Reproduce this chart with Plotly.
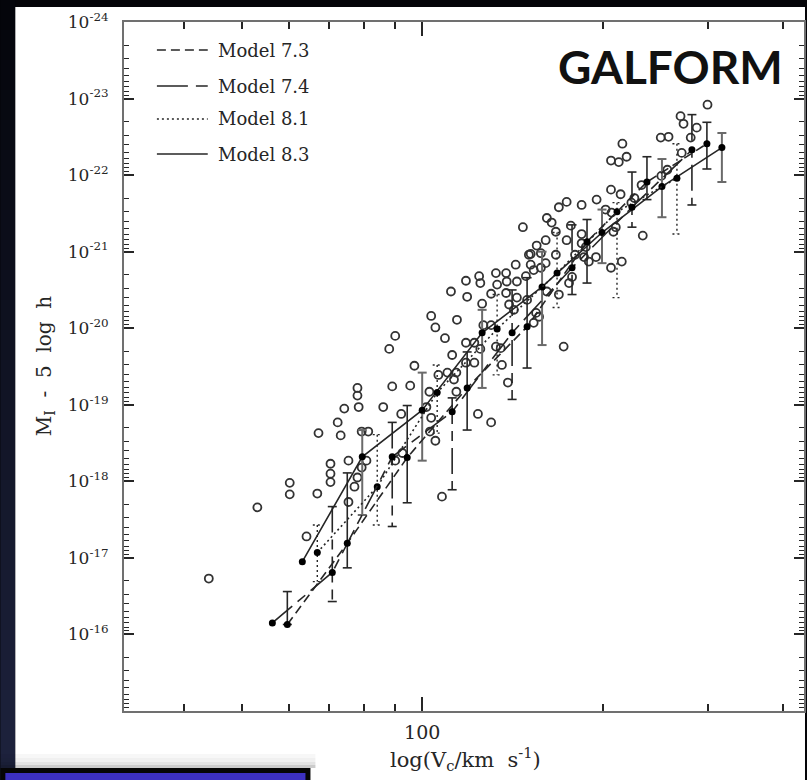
import plotly.graph_objects as go

# ---------------- data (log10 Vc, magnitude M_I - 5 log h) ----------------
# Model 8.3 (solid)
m83_logv = [1.80, 1.90, 2.00, 2.10, 2.20, 2.30, 2.40, 2.50]
m83_mag = [-16.95, -18.32, -18.93, -19.94, -20.54, -21.25, -21.85, -22.36]
m83_bright = [None, -18.67, -19.42, -20.24, -21.00, -21.55, -22.21, -22.55]
m83_faint = [None, -17.56, -18.27, -19.22, -19.78, -20.85, -21.45, -21.91]

# Model 8.1 (dotted)
m81_logv = [1.825, 1.925, 2.025, 2.125, 2.225, 2.325, 2.425]
m81_mag = [-17.07, -17.93, -19.16, -19.99, -20.72, -21.52, -21.96]
m81_bright = [-17.43, -18.61, -19.52, -20.44, -21.25, -21.64, -22.41]
m81_faint = [-16.69, -17.43, -18.63, -19.39, -20.27, -20.40, -21.23]

# Model 7.4 (long dash)
m74_logv = [1.75, 1.85, 1.95, 2.05, 2.15, 2.25, 2.35, 2.45]
m74_mag = [-16.15, -16.81, -18.32, -18.91, -19.94, -20.79, -21.58, -22.33]
m74_bright = [None, -17.67, -18.77, -19.09, -20.50, -21.35, -22.04, -22.79]
m74_faint = [None, -16.43, -17.41, -17.89, -19.07, -20.44, -21.32, -21.61]

# Model 7.3 (dashed)
m73_logv = [1.775, 1.875, 1.975, 2.075, 2.175, 2.275, 2.375, 2.475]
m73_mag = [-16.13, -17.19, -18.31, -19.22, -20.02, -21.13, -21.91, -22.41]
m73_bright = [-16.56, -18.11, -18.99, -19.69, -20.66, -21.42, -22.24, -22.69]
m73_faint = [-16.13, -16.87, -17.72, -18.67, -19.48, -20.59, -21.68, -22.08]

# Observed galaxies (open circles)
obs_logv = [1.644, 1.725, 1.779, 1.779, 1.807, 1.825, 1.827, 1.847, 1.847, 1.847,
            1.864, 1.859, 1.870, 1.892, 1.892, 1.894, 1.877, 1.887, 1.892, 1.899,
            1.907, 1.877, 1.899, 1.910, 1.935, 1.950, 1.945, 1.955, 1.980, 1.987,
            1.965, 1.967, 1.955, 2.012, 2.015, 2.013, 2.022, 2.033, 2.015, 2.022,
            2.038, 2.048, 2.075, 2.073, 2.095, 2.097, 2.100, 2.058, 2.073, 2.087,
            2.097, 2.050, 2.073, 2.087, 2.027, 2.042, 2.057, 2.053, 2.057, 2.093,
            2.115, 2.123, 2.140, 2.156, 2.141, 2.158, 2.125, 2.115, 2.140, 2.158,
            2.175, 2.145, 2.153, 2.178, 2.102, 2.115, 2.123, 2.131, 2.133, 2.143,
            2.168, 2.181, 2.181, 2.191, 2.198, 2.206, 2.208, 2.216, 2.223, 2.228,
            2.241, 2.248, 2.241, 2.255, 2.206, 2.198, 2.186, 2.173, 2.223, 2.208,
            2.228, 2.245, 2.250, 2.190, 2.195, 2.186, 2.236, 2.266, 2.291, 2.266,
            2.266, 2.273, 2.270, 2.278, 2.290, 2.306, 2.316, 2.323, 2.319, 2.315,
            2.331, 2.354, 2.349, 2.366, 2.399, 2.409, 2.315, 2.328, 2.341, 2.334,
            2.398, 2.411, 2.433, 2.431, 2.436, 2.458, 2.448, 2.476, 2.368, 2.333,
            2.315, 2.007]
obs_mag = [-16.73, -17.66, -17.98, -17.83, -17.28, -17.84, -18.63, -18.23, -18.10, -17.99,
           -18.60, -18.77, -18.95, -19.22, -19.12, -18.97, -18.27, -17.93, -18.05, -18.18,
           -18.27, -17.73, -18.65, -18.65, -18.97, -19.24, -19.73, -19.90, -19.25, -19.51,
           -18.88, -18.37, -18.27, -19.17, -18.83, -18.65, -18.53, -17.80, -20.16, -20.01,
           -19.87, -20.48, -20.41, -20.62, -20.68, -20.59, -20.32, -20.11, -19.81, -19.81,
           -19.73, -19.65, -19.55, -19.55, -19.39, -19.42, -19.42, -19.33, -19.17, -18.88,
           -18.77, -20.72, -20.72, -20.83, -20.61, -20.61, -20.57, -20.45, -20.46, -20.40,
           -20.37, -20.31, -20.24, -20.96, -20.04, -20.04, -19.76, -19.74, -19.52, -19.29,
           -21.32, -20.97, -20.83, -21.08, -20.98, -21.15, -21.44, -21.38, -21.26, -21.58,
           -21.65, -21.34, -21.15, -20.96, -20.85, -20.79, -20.76, -20.68, -20.96, -20.48,
           -20.44, -20.59, -20.67, -20.20, -20.15, -20.07, -19.76, -21.61, -21.68, -21.23,
           -21.11, -21.06, -20.93, -20.87, -20.93, -21.55, -21.51, -21.32, -21.26, -21.81,
           -21.75, -21.70, -21.64, -21.87, -21.99, -22.07, -22.19, -22.17, -22.24, -22.41,
           -22.49, -22.50, -22.29, -22.77, -22.67, -22.62, -22.49, -22.92, -21.21, -20.87,
           -20.79, -18.97]

legend_names = ["Model 7.3", "Model 7.4", "Model 8.1", "Model 8.3"]
x_tick_major = [100]
x_tick_minor = [40, 50, 60, 70, 80, 90, 200, 300, 400]
y_tick_exps = list(range(-24, -15))

# ---------------- styling ----------------
INK = "#262626"
SERIF = "DejaVu Serif"
DASH73 = "9px,5px"
DASH74 = "26px,7px,10px,7px"
DOT81 = "2px,3px"

W, H = 807, 780
L, R, T, B = 124, 1, 22, 69
PW, PH = W - L - R, H - T - B


def pxx(x):
    return (x - L) / PW


def pxy(y):
    return (H - B - y) / PH


fig = go.Figure()

# open circles
fig.add_trace(go.Scatter(
    x=[10 ** v for v in obs_logv], y=[10 ** m for m in obs_mag],
    mode="markers", showlegend=False, hoverinfo="skip",
    marker=dict(symbol="circle-open", size=8, color="#333333", line=dict(width=1.8, color="#333333"))))


def errbars(logv, bright, faint, color, width, dash):
    xs, ys = [], []
    cap = 10 ** 0.0075
    for lv, b, f in zip(logv, bright, faint):
        if b is None:
            continue
        x = 10 ** lv
        yb, yf = 10 ** b, 10 ** f
        xs += [x, x, None, x / cap, x * cap, None, x / cap, x * cap, None]
        ys += [yb, yf, None, yb, yb, None, yf, yf, None]
    fig.add_trace(go.Scatter(x=xs, y=ys, mode="lines", showlegend=False, hoverinfo="skip",
                             line=dict(color=color, width=width, dash=dash)))


errbars(m83_logv, m83_bright, m83_faint, "#6a6a6a", 2.0, "solid")
errbars(m81_logv, m81_bright, m81_faint, INK, 1.4, DOT81)
errbars(m74_logv, m74_bright, m74_faint, INK, 1.6, DASH74)
errbars(m73_logv, m73_bright, m73_faint, INK, 1.6, "solid")

for lv, mg, dash in [(m83_logv, m83_mag, "solid"), (m81_logv, m81_mag, DOT81),
                     (m74_logv, m74_mag, DASH74), (m73_logv, m73_mag, DASH73)]:
    fig.add_trace(go.Scatter(
        x=[10 ** v for v in lv], y=[10 ** m for m in mg], mode="lines+markers",
        showlegend=False, hoverinfo="skip",
        line=dict(color=INK, width=1.6, dash=dash),
        marker=dict(symbol="circle", size=7, color="#000000")))

shapes = []
# dark gradient strip on left
n = 26
for i in range(n):
    y0, y1 = i * H / n, (i + 1) * H / n
    f = (i + 0.5) / n
    c = "rgb(%d,%d,%d)" % (int(4 + 26 * f), int(5 + 30 * f), int(10 + 52 * f))
    shapes.append(dict(type="rect", xref="paper", yref="paper", layer="below",
                       x0=pxx(0), x1=pxx(15), y0=pxy(y1), y1=pxy(y0),
                       fillcolor=c, line=dict(width=0)))
# white panel
shapes.append(dict(type="rect", xref="paper", yref="paper", layer="below",
                   x0=pxx(15), x1=pxx(W), y0=pxy(H), y1=pxy(7),
                   fillcolor="white", line=dict(width=0)))
# soft shadow above blue box
for (a, b, al) in [(754, 758, 0.03), (758, 762, 0.06), (762, 765, 0.11), (765, 768, 0.2)]:
    shapes.append(dict(type="rect", xref="paper", yref="paper", layer="above",
                       x0=pxx(0), x1=pxx(316), y0=pxy(b), y1=pxy(a),
                       fillcolor="rgba(0,0,0,%.2f)" % al, line=dict(width=0)))
# blue box
shapes.append(dict(type="rect", xref="paper", yref="paper", layer="above",
                   x0=pxx(0), x1=pxx(311), y0=pxy(H), y1=pxy(768),
                   fillcolor="#050505", line=dict(width=0)))
shapes.append(dict(type="rect", xref="paper", yref="paper", layer="above",
                   x0=pxx(5), x1=pxx(306), y0=pxy(H), y1=pxy(773),
                   fillcolor="#3c30c0", line=dict(width=0)))

# legend samples
leg_y = [50, 86, 119, 154]
leg_dash = [DASH73, "31px,8px,12px,8px", DOT81, "solid"]
annotations = []
for name, yy, d in zip(legend_names, leg_y, leg_dash):
    shapes.append(dict(type="line", xref="paper", yref="paper", layer="above",
                       x0=pxx(157), x1=pxx(208), y0=pxy(yy), y1=pxy(yy),
                       line=dict(color=INK, width=1.6, dash=d)))
    annotations.append(dict(text=name, xref="paper", yref="paper", x=pxx(216), y=pxy(yy),
                            xanchor="left", yanchor="middle", showarrow=False,
                            font=dict(family=SERIF, size=18, color=INK)))

annotations.append(dict(text="<b>GALFORM</b>", xref="paper", yref="paper", x=pxx(672), y=pxy(66),
                        xanchor="center", yanchor="middle", showarrow=False,
                        font=dict(family="Lato, Open Sans, sans-serif", size=46, color="#111111")))
annotations.append(dict(text="log(V<sub>c</sub>/km  s<sup>-1</sup>)", xref="paper", yref="paper",
                        x=pxx(467), y=pxy(759), xanchor="center", yanchor="middle", showarrow=False,
                        font=dict(family=SERIF, size=21, color=INK)))
annotations.append(dict(text="M<sub>I</sub>  -  5  log  h", xref="paper", yref="paper",
                        x=pxx(45), y=pxy(366), xanchor="center", yanchor="middle", showarrow=False,
                        textangle=-90, font=dict(family=SERIF, size=20, color=INK)))

fig.update_layout(
    width=W, height=H, margin=dict(l=L, r=R, t=T, b=B, pad=0),
    paper_bgcolor="#040408", plot_bgcolor="white",
    shapes=shapes, annotations=annotations, showlegend=False,
    xaxis=dict(type="log", range=[1.5025, 2.637], showgrid=False, zeroline=False,
               showline=True, linecolor="#707070", linewidth=2, mirror="ticks",
               ticks="inside", ticklen=14, tickwidth=1.5, tickcolor=INK,
               tickmode="array", tickvals=x_tick_major, ticktext=[str(v) for v in x_tick_major],
               ticklabelstandoff=3,
               tickfont=dict(family=SERIF, size=19, color=INK),
               minor=dict(tickmode="array", tickvals=x_tick_minor, ticks="inside",
                          ticklen=7, tickwidth=1.5, tickcolor=INK, showgrid=False)),
    yaxis=dict(type="log", range=[-15, -24], showgrid=False, zeroline=False,
               showline=True, linecolor="#707070", linewidth=2, mirror="ticks",
               ticks="inside", ticklen=10, tickwidth=1.5, tickcolor=INK,
               tickmode="array", tickvals=[10.0 ** e for e in y_tick_exps],
               ticktext=["10<sup>%d</sup>" % e for e in y_tick_exps],
               ticklabelstandoff=10,
               tickfont=dict(family=SERIF, size=17, color=INK),
               minor=dict(tickmode="array",
                          tickvals=[k * 10.0 ** e for e in range(-24, -15) for k in range(2, 10)],
                          ticks="inside", ticklen=5, tickwidth=1.2, tickcolor=INK, showgrid=False)),
)

fig.write_html("out.html")
